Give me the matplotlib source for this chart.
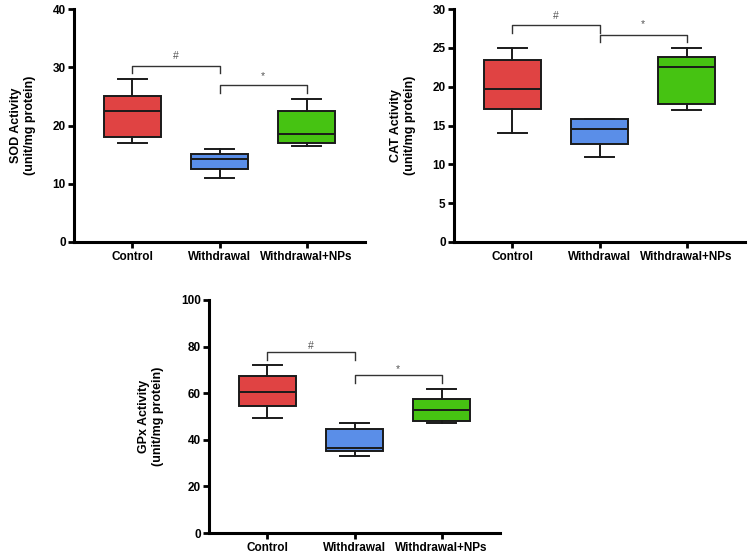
import matplotlib
matplotlib.use("Agg")
import matplotlib.pyplot as plt

plt.rcParams['font.family'] = ['Liberation Sans', 'DejaVu Sans']

groups = ["Control", "Withdrawal", "Withdrawal+NPs"]
colors = ["#E04343", "#5A8EE8", "#46C312"]

# min, q1, median, q3, max per group
sod_min = [17.0, 11.0, 16.5]
sod_q1 = [18.0, 12.6, 17.0]
sod_med = [22.5, 14.2, 18.5]
sod_q3 = [25.0, 15.1, 22.5]
sod_max = [28.0, 16.0, 24.5]

cat_min = [14.0, 11.0, 17.0]
cat_q1 = [17.1, 12.6, 17.8]
cat_med = [19.7, 14.5, 22.5]
cat_q3 = [23.4, 15.9, 23.8]
cat_max = [25.0, 15.9, 25.0]

gpx_min = [49.3, 33.1, 47.3]
gpx_q1 = [54.6, 35.4, 48.1]
gpx_med = [60.6, 36.4, 52.6]
gpx_q3 = [67.4, 44.6, 57.4]
gpx_max = [72.1, 47.1, 62.0]

# bracket levels: (bar y, tick-bottom y, label y)
sod_br = [(30.3, 29.0, 32.0), (26.9, 25.6, 28.5)]
cat_br = [(27.9, 26.9, 29.1), (26.7, 25.7, 28.1)]
gpx_br = [(77.6, 74.3, 80.3), (67.6, 64.3, 70.3)]
br_labels = ["#", "*"]

W, H = 748, 555
fig = plt.figure(figsize=(W / 100, H / 100), dpi=100)


def panel(rect, mins, q1s, meds, q3s, maxs, ymax, ystep, ylabel, brs):
    ax = fig.add_axes(rect)
    stats = []
    for i in range(3):
        stats.append(dict(whislo=mins[i], q1=q1s[i], med=meds[i], q3=q3s[i],
                          whishi=maxs[i], fliers=[], label=groups[i]))
    bp = ax.bxp(stats, positions=[0, 1, 2], widths=0.66, patch_artist=True,
                showfliers=False,
                boxprops=dict(linewidth=1.4, edgecolor="#1a1a1a"),
                medianprops=dict(color="#1a1a1a", linewidth=1.4),
                whiskerprops=dict(color="#1a1a1a", linewidth=1.4),
                capprops=dict(color="#1a1a1a", linewidth=1.4),
                capwidths=0.33)
    for patch, c in zip(bp['boxes'], colors):
        patch.set_facecolor(c)
    ax.set_xlim(-0.67, 2.67)
    ax.set_ylim(0, ymax)
    ax.set_yticks(range(0, ymax + 1, ystep))
    ax.spines['top'].set_visible(False)
    ax.spines['right'].set_visible(False)
    for s in ['left', 'bottom']:
        ax.spines[s].set_linewidth(2.2)
    ax.tick_params(axis='both', width=2.0, length=4, labelsize=8.5)
    ax.tick_params(axis='y', pad=2)
    ax.tick_params(axis='x', labelsize=8.5, pad=2.5)
    for lab in ax.get_xticklabels() + ax.get_yticklabels():
        lab.set_fontweight('bold')
    ax.set_ylabel(ylabel, fontsize=9, fontweight='bold', labelpad=12,
                  linespacing=1.2)
    pairs = [(0, 1), (1, 2)]
    for (a, b), (yb, yt, yl), lab in zip(pairs, brs, br_labels):
        ax.plot([a, a, b, b], [yt, yb, yb, yt], color="#333333", lw=1.0,
                clip_on=False)
        ax.text((a + b) / 2, yl, lab, ha='center', va='center',
                fontsize=7.5, color="#555555")
    return ax


aw = 291 / W
ah = 233 / H
panel([74 / W, (H - 242) / H, aw, ah], sod_min, sod_q1, sod_med, sod_q3,
      sod_max, 40, 10, "SOD Activity\n(unit/mg protein)", sod_br)
panel([454 / W, (H - 242) / H, aw, ah], cat_min, cat_q1, cat_med, cat_q3,
      cat_max, 30, 5, "CAT Activity\n(unit/mg protein)", cat_br)
panel([209 / W, (H - 533) / H, aw, ah], gpx_min, gpx_q1, gpx_med, gpx_q3,
      gpx_max, 100, 20, "GPx Activity\n(unit/mg protein)", gpx_br)

fig.savefig("out.png", dpi=100)
